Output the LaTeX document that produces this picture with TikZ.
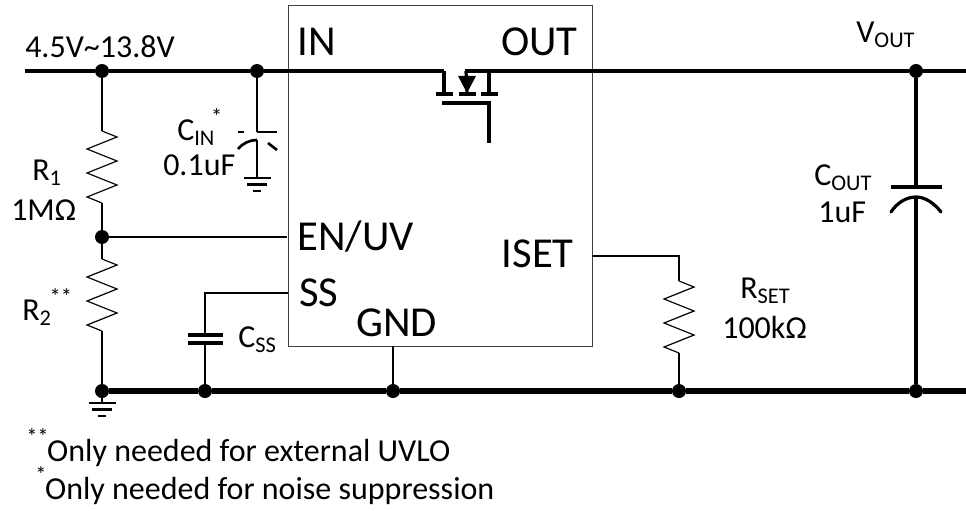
\documentclass[tikz,border=0pt]{standalone}
\usepackage{fontspec}
\setmainfont{Carlito}
\usetikzlibrary{calc}
\tikzset{
	rail/.style={line width=3.2pt},
	fetline/.style={line width=2.4pt},
	wire/.style={line width=2pt},
	thinwire/.style={line width=1.5pt},
	joint/.style={circle,fill=black,inner sep=0pt,minimum size=10.5pt},
	pinlabel/.style={font=\fontsize{32}{32}\selectfont,inner sep=0pt},
	partlabel/.style={font=\fontsize{24}{24}\selectfont,inner sep=0pt},
}
\newcommand{\zigres}[2]{% zigzag resistor going down from #1
	\draw [line width=0.9pt] (#1)
	-- ++(15,6) -- ++(-30,12) -- ++(30,12) -- ++(-30,12) -- ++(30,12) -- ++(-30,12) -- (#2);
}
\newcommand{\earth}[1]{% ground symbol hanging under #1
	\draw [wire] ($(#1)+(-13.5,0)$) -- ++(27,0);
	\draw [wire] ($(#1)+(-10,6.5)$) -- ++(20,0);
	\draw [wire] ($(#1)+(-4,13)$) -- ++(8,0);
}
\newcommand{\hisup}[1]{\raisebox{3pt}{\textsuperscript{#1}}\kern-1.5pt}
\begin{document}
\begin{tikzpicture}[x=0.75pt,y=-0.75pt]
	\useasboundingbox (0,0) rectangle (966,510);
	% chip
	\node (chip) [draw=black!75,line width=0.8pt,minimum width=228pt,minimum height=255.75pt,inner sep=0pt,anchor=north west] at (288,5) {};
	\coordinate (inL) at (25,71);
	\coordinate (inR) at (444,71);
	\coordinate (outL) at (465,71);
	\coordinate (outR) at (966,71);
	\coordinate (gndR) at (966,391);
	\node (j1) [joint] at (102,71) {};
	\node (j2) [joint] at (257,71) {};
	\node (j3) [joint] at (916,71) {};
	\node (j4) [joint] at (102,237) {};
	\node (j5) [joint] at (102,391) {};
	\node (j6) [joint] at (205,391) {};
	\node (j7) [joint] at (393,391) {};
	\node (j8) [joint] at (679,391) {};
	\node (j9) [joint] at (916,391) {};
	% rails
	\draw [rail] (inL) -- (j1) -- (j2) -- (inR);
	\draw [rail] (outL) -- (j3) -- (outR);
	\draw [rail,line width=3.8pt] (j5) -- (j6) -- (j7) -- (j8) -- (j9) -- (gndR);
	% mosfet
	\coordinate (mosS) at (444,94);
	\coordinate (mosB) at (467,94);
	\coordinate (mosD) at (489,94);
	\coordinate (mosT) at (489,71);
	\coordinate (gateL) at (442,103);
	\coordinate (gateC) at (489,103);
	\coordinate (gateE) at (489,143);
	\draw [fetline] (inR) -- (mosS);
	\draw [fetline] (outL) -- (466,71) -- (mosB);
	\draw [fetline] (mosT) -- (mosD);
	\foreach \fetpin in {mosS,mosB,mosD}
		\draw [fetline] ($(\fetpin)+(-8.5,0)$) -- ++(17,0);
	\draw [fetline] (gateL) -- (gateC) -- (gateE);
	\fill (458,76) -- (476,76) -- (467,93) -- cycle;
	% R1 and R2
	\coordinate (r1a) at (102,131);
	\coordinate (r1b) at (102,203);
	\coordinate (r2a) at (102,259);
	\coordinate (r2b) at (102,331);
	\draw [wire] (j1) -- (r1a);
	\zigres{r1a}{r1b}
	\draw [wire] (r1b) -- (j4);
	\draw [wire] (j4) -- (r2a);
	\zigres{r2a}{r2b}
	\draw [wire] (r2b) -- (j5);
	\coordinate (gnd1) at (102,403);
	\draw [wire] (j5) -- (gnd1);
	\earth{gnd1}
	\node (enpin) at (288,237) [inner sep=0pt] {};
	\draw [thinwire] (j4) -- (enpin);
	% CIN
	\coordinate (cina) at (257,132);
	\coordinate (cinb) at (257,178);
	\draw [wire] (j2) -- (cina);
	\draw [wire] (238,132) -- (244,132);
	\draw [wire] (cina) -- (277,132);
	\draw [wire] (238,149) .. controls (243,143) and (250,140) .. (257,140);
	\draw [wire] (268,143) -- (277,150);
	\draw [wire] (257,140) -- (cinb);
	\earth{cinb}
	% CSS
	\coordinate (sspin) at (288,293);
	\coordinate (ssc) at (205,293);
	\coordinate (cssa) at (205,335);
	\coordinate (cssb) at (205,343);
	\draw [thinwire] (sspin) -- (ssc) -- (cssa);
	\draw [fetline] (188,335) -- (223,335);
	\draw [fetline] (188,343) -- (223,343);
	\draw [wire] (cssb) -- (j6);
	% GND pin
	\coordinate (gndpin) at (393,346);
	\draw [thinwire] (gndpin) -- (j7);
	% RSET
	\coordinate (isetpin) at (592,256);
	\coordinate (rsetc) at (679,256);
	\coordinate (rseta) at (679,281);
	\coordinate (rsetb) at (679,353);
	\draw [thinwire] (isetpin) -- (rsetc) -- (rseta);
	\zigres{rseta}{rsetb}
	\draw [thinwire] (rsetb) -- (j8);
	% COUT
	\coordinate (couta) at (916,187);
	\coordinate (coutb) at (916,197);
	\draw [fetline] (j3) -- (couta);
	\draw [fetline] (891,187) -- (942,187);
	\draw [fetline,line cap=round] (891,212) .. controls (897,203) and (906,197) .. (coutb) .. controls (925,197) and (934,203) .. (941,212);
	\draw [fetline] (coutb) -- (j9);
	% pin names
	\node (lIN) [pinlabel,anchor=west] at (297,42) {IN};
	\node (lOUT) [pinlabel,anchor=east] at (578,42) {OUT};
	\node (lEN) [pinlabel,anchor=west] at (297,237) {EN/UV};
	\node (lISET) [pinlabel,anchor=east] at (574,254) {ISET};
	\node (lSS) [pinlabel,anchor=west] at (299,293) {SS};
	\node (lGND) [pinlabel,anchor=west] at (356,323) {GND};
	% part labels
	\node (lvin) [partlabel,anchor=west] at (25,47) {4.5V\textasciitilde13.8V};
	\node (lvout) [partlabel,anchor=west] at (856,35) {V\textsubscript{OUT}};
	\node (lr1) [partlabel,anchor=west] at (32,173) {R\textsubscript{1}};
	\node (lr1v) [partlabel,anchor=west] at (11,210) {1MΩ};
	\node (lr2) [partlabel,anchor=west] at (22,307) {R\textsubscript{2}\kern-1.5pt\hisup{**}};
	\node (lcin) [partlabel,anchor=west] at (177,127) {C\textsubscript{IN}\kern-3pt\hisup{*}};
	\node (lcinv) [partlabel,anchor=west] at (163,165) {0.1uF};
	\node (lcss) [partlabel,anchor=west] at (238,340) {C\textsubscript{SS}};
	\node (lrset) [partlabel,anchor=west] at (740,291) {R\textsubscript{SET}};
	\node (lrsetv) [partlabel,anchor=west] at (722,327) {100kΩ};
	\node (lcout) [partlabel,anchor=west] at (814,178) {C\textsubscript{OUT}};
	\node (lcoutv) [partlabel,anchor=west] at (818,212) {1uF};
	% notes
	\node (note1) [partlabel,anchor=base west] at (26,461) {\hisup{**}Only needed for external UVLO};
	\node (note2) [partlabel,anchor=base west] at (35,499) {\hisup{*}Only needed for noise suppression};
\end{tikzpicture}
\end{document}
